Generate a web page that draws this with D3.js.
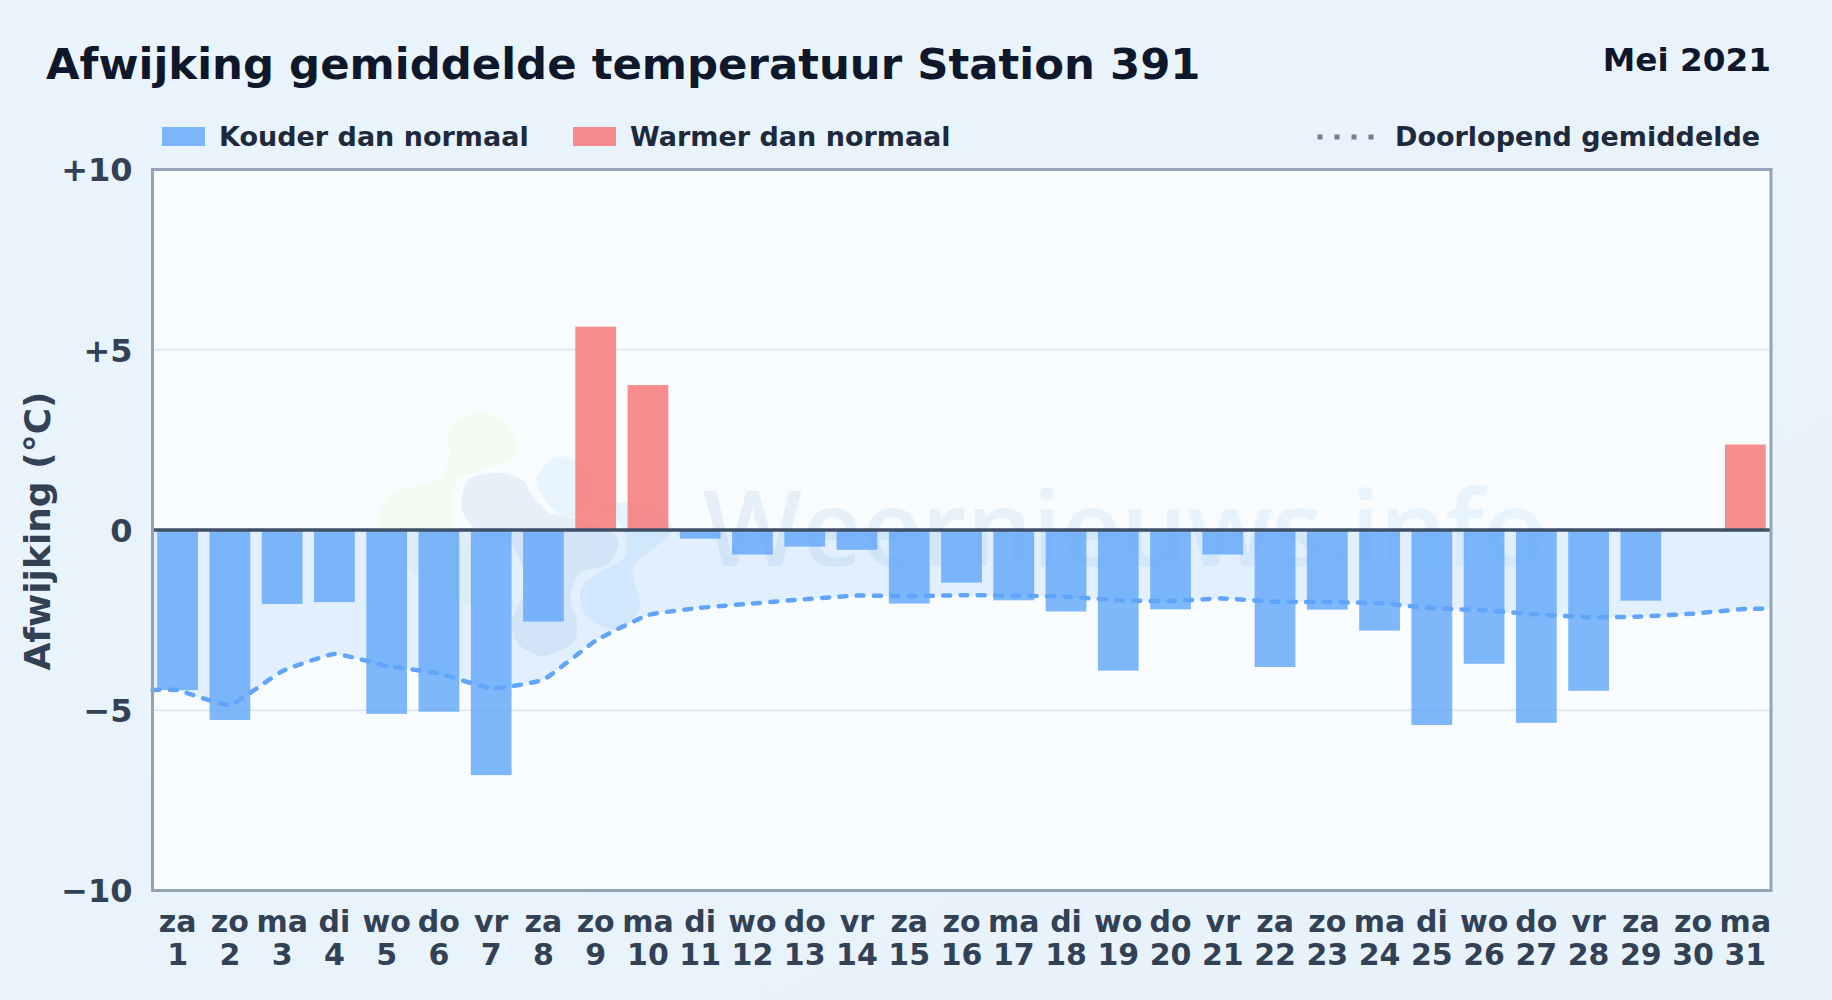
<!DOCTYPE html>
<html>
<head>
<meta charset="utf-8">
<title>Afwijking gemiddelde temperatuur Station 391</title>
<script src="https://cdn.jsdelivr.net/npm/d3@7.9.0/dist/d3.min.js"></script>
<style>
  body { margin: 0; background: #e8f3fc; }
  svg { display: block; font-family: "DejaVu Sans", sans-serif; font-weight: 700; }
</style>
</head>
<body>
<svg id="chart" width="1832" height="1000"></svg>
<script>
const days = d3.range(1, 32);
const weekdays = ['za','zo','ma','di','wo','do','vr','za','zo','ma','di','wo','do','vr','za','zo','ma','di','wo','do','vr','za','zo','ma','di','wo','do','vr','za','zo','ma'];
// day 30 has no bar in the picture
const deviation = [-4.44,-5.27,-2.05,-2.0,-5.1,-5.04,-6.8,-2.54,5.64,4.02,-0.24,-0.68,-0.46,-0.55,-2.04,-1.46,-1.95,-2.26,-3.9,-2.2,-0.68,-3.8,-2.21,-2.79,-5.41,-3.71,-5.35,-4.46,-1.96,null,2.37];
const runningMean = [-4.44,-4.85,-3.92,-3.44,-3.77,-3.98,-4.39,-4.15,-3.07,-2.36,-2.16,-2.04,-1.92,-1.82,-1.84,-1.81,-1.82,-1.85,-1.95,-1.97,-1.9,-1.99,-2.0,-2.03,-2.17,-2.23,-2.34,-2.42,-2.4,-2.32,-2.19];
const yTicks = [-10, -5, 0, 5, 10];

const plot = { left: 152.5, right: 1771, top: 169.5, bottom: 890.5 };

const svg = d3.select('#chart');
const defs = svg.append('defs');

let pageGrad = defs.append('linearGradient').attr('id', 'pageBg')
    .attr('x1', 0).attr('y1', 0).attr('x2', 1).attr('y2', 1);
pageGrad.append('stop').attr('offset', 0).attr('stop-color', '#eaf4fc');
pageGrad.append('stop').attr('offset', 1).attr('stop-color', '#e7f2fb');

let markGrad = defs.append('linearGradient').attr('id', 'markFill')
    .attr('gradientUnits', 'userSpaceOnUse')
    .attr('x1', 700).attr('y1', 0).attr('x2', 1550).attr('y2', 0);
markGrad.append('stop').attr('offset', 0).attr('stop-color', '#e6eff8');
markGrad.append('stop').attr('offset', 1).attr('stop-color', '#e8f5fe');

svg.append('rect').attr('width', 1832).attr('height', 1000).attr('fill', 'url(#pageBg)');
svg.append('rect')
    .attr('x', plot.left).attr('y', plot.top)
    .attr('width', plot.right - plot.left).attr('height', plot.bottom - plot.top)
    .attr('fill', '#f8fcff');

const x = d3.scaleBand().domain(days).range([151.5, 1771.5]).paddingInner(0.22).paddingOuter(0.11);
const y = d3.scaleLinear().domain([-10, 10]).range([plot.bottom, plot.top]);

// watermark, behind everything
const blobs = [
  { fill: '#f4faf2', pts: [[483,413],[507,423],[517,447],[510,460],[487,467],[460,478],[452,497],[455,530],[490,565],[500,600],[470,605],[410,570],[383,535],[380,513],[393,493],[437,480],[450,457],[448,433],[457,420]] },
  { fill: '#e7f0f8', pts: [[462,497],[470,478],[500,473],[523,480],[533,497],[550,513],[573,518],[613,533],[618,547],[607,565],[580,573],[570,597],[577,623],[573,643],[543,656],[517,643],[512,620],[520,603],[527,587],[513,547],[477,530],[463,513]] },
  { fill: '#e8f5fe', pts: [[537,477],[550,460],[567,457],[587,470],[592,495],[573,517],[557,513],[540,493]] },
  { fill: '#e6f3fe', pts: [[600,503],[650,505],[670,523],[668,537],[633,567],[640,607],[617,630],[587,617],[580,590],[600,572],[623,560],[627,540],[617,520]] }
];
const blobLine = d3.line().curve(d3.curveCardinalClosed.tension(0.2));
svg.append('g').selectAll('path').data(blobs).join('path')
    .attr('d', d => blobLine(d.pts))
    .attr('fill', d => d.fill);
svg.append('text')
    .attr('x', 703).attr('y', 566)
    .attr('font-family', '"Open Sans", sans-serif')
    .attr('font-weight', 600)
    .attr('font-size', 105)
    .attr('textLength', 844)
    .attr('fill', 'url(#markFill)')
    .text('Weernieuws.info');

// grid
svg.append('g').selectAll('line').data(yTicks.filter(t => Math.abs(t) === 5)).join('line')
    .attr('x1', plot.left).attr('x2', plot.right)
    .attr('y1', d => y(d)).attr('y2', d => y(d))
    .attr('stroke', '#e2e8f0').attr('stroke-width', 2);

// running mean area and line run from edge to edge of the plot
const meanPoints = runningMean.map((v, i) => [x(days[i]) + x.bandwidth() / 2, v]);
meanPoints.unshift([plot.left, runningMean[0]]);
meanPoints.push([plot.right, runningMean[runningMean.length - 1]]);

const meanCurve = d3.curveCardinal.tension(0.6);
const area = d3.area()
    .x(d => d[0]).y0(y(0)).y1(d => y(d[1]))
    .curve(meanCurve);
svg.append('path').datum(meanPoints)
    .attr('d', area)
    .attr('fill', '#60a5fa').attr('fill-opacity', 0.15);

// bars
svg.append('g').selectAll('rect')
    .data(days.map((d, i) => ({ day: d, value: deviation[i] })).filter(d => d.value !== null))
    .join('rect')
    .attr('x', d => x(d.day))
    .attr('width', x.bandwidth())
    .attr('y', d => y(Math.max(0, d.value)))
    .attr('height', d => Math.abs(y(d.value) - y(0)))
    .attr('fill', d => d.value < 0 ? '#60a5fa' : '#f87171')
    .attr('fill-opacity', 0.8);

const meanLine = d3.line()
    .x(d => d[0]).y(d => y(d[1]))
    .curve(meanCurve);
svg.append('path').datum(meanPoints)
    .attr('d', meanLine)
    .attr('fill', 'none')
    .attr('stroke', '#60a5fa')
    .attr('stroke-width', 4.5)
    .attr('stroke-linecap', 'round')
    .attr('stroke-dasharray', '7 10.3');

// zero line and frame
svg.append('line')
    .attr('x1', plot.left).attr('x2', plot.right)
    .attr('y1', y(0)).attr('y2', y(0))
    .attr('stroke', '#3f4f66').attr('stroke-width', 3.5);
svg.append('rect')
    .attr('x', plot.left).attr('y', plot.top)
    .attr('width', plot.right - plot.left).attr('height', plot.bottom - plot.top)
    .attr('fill', 'none').attr('stroke', '#94a3b8').attr('stroke-width', 3);

// axes
const yAxis = d3.axisLeft(y)
    .tickValues(yTicks)
    .tickSize(0)
    .tickPadding(20)
    .tickFormat(d => d > 0 ? `+${d}` : d < 0 ? `\u2212${-d}` : '0');
svg.append('g')
    .attr('transform', `translate(${plot.left},1)`)
    .call(yAxis)
    .call(g => g.select('.domain').remove())
    .selectAll('text')
    .attr('font-family', '"DejaVu Sans", sans-serif')
    .attr('font-size', 32)
    .attr('fill', '#334155');

const xAxis = d3.axisBottom(x).tickSize(0).tickFormat('');
const xG = svg.append('g')
    .attr('transform', `translate(0,${plot.bottom})`)
    .call(xAxis)
    .call(g => g.select('.domain').remove());
xG.selectAll('.tick text').each(function (d, i) {
  let label = d3.select(this)
      .attr('y', 0).attr('dy', null)
      .attr('font-family', '"DejaVu Sans", sans-serif')
      .attr('font-size', 30)
      .attr('fill', '#334155');
  label.append('tspan').attr('x', 0).attr('y', 41).text(weekdays[i]);
  label.append('tspan').attr('x', 0).attr('y', 74).text(d);
});

svg.append('text')
    .attr('transform', `translate(50,531) rotate(-90)`)
    .attr('text-anchor', 'middle')
    .attr('font-size', 36)
    .attr('fill', '#334155')
    .text('Afwijking (°C)');

// title block
svg.append('text')
    .attr('x', 46).attr('y', 79)
    .attr('font-size', 43.4)
    .attr('fill', '#0f172a')
    .text('Afwijking gemiddelde temperatuur Station 391');
svg.append('text')
    .attr('x', 1771).attr('y', 71)
    .attr('text-anchor', 'end')
    .attr('font-size', 32.7)
    .attr('fill', '#0f172a')
    .text('Mei 2021');

// legend
const legendText = (px, label) => svg.append('text')
    .attr('x', px).attr('y', 146)
    .attr('font-size', 27)
    .attr('fill', '#1e293b')
    .text(label);
const swatch = (px, color) => svg.append('rect')
    .attr('x', px).attr('y', 127)
    .attr('width', 43).attr('height', 19)
    .attr('fill', color).attr('fill-opacity', 0.8);
swatch(162, '#60a5fa');
legendText(219, 'Kouder dan normaal');
swatch(573, '#f87171');
legendText(630, 'Warmer dan normaal');
svg.append('line')
    .attr('x1', 1317.5).attr('x2', 1374)
    .attr('y1', 137).attr('y2', 137)
    .attr('stroke', '#64748b').attr('stroke-width', 5)
    .attr('stroke-opacity', 0.9)
    .attr('stroke-dasharray', '5 12');
legendText(1395, 'Doorlopend gemiddelde');
</script>
</body>
</html>
